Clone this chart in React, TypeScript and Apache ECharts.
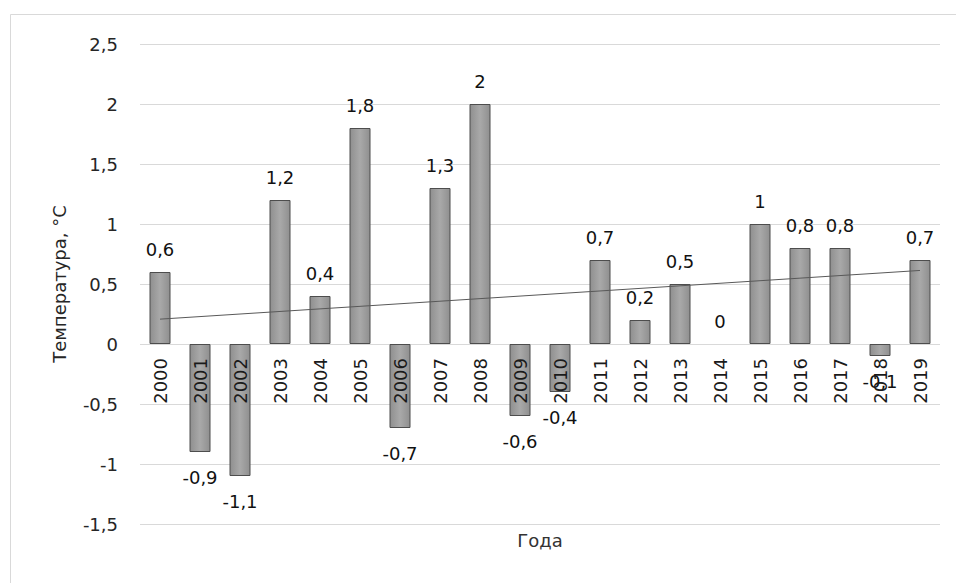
import React, { useEffect, useRef } from "react";
import * as echarts from "echarts";

// Годы наблюдений и аномалии температуры, °C
const years: string[] = [
  "2000", "2001", "2002", "2003", "2004", "2005", "2006", "2007", "2008", "2009",
  "2010", "2011", "2012", "2013", "2014", "2015", "2016", "2017", "2018", "2019",
];
const anomalies: number[] = [
  0.6, -0.9, -1.1, 1.2, 0.4, 1.8, -0.7, 1.3, 2, -0.6,
  -0.4, 0.7, 0.2, 0.5, 0, 1, 0.8, 0.8, -0.1, 0.7,
];
const yTicks = { min: -1.5, max: 2.5, step: 0.5 };

const FONT = "DejaVu Sans";
const comma = (v: number) => String(v).replace(".", ",");

const GRID = { left: 140, right: 16, top: 44, bottom: 59 };
const PLOT_HEIGHT = 583 - GRID.top - GRID.bottom;

// Linear least-squares trend over the series
function linearTrend(values: number[]): number[] {
  const n = values.length;
  const mx = (n - 1) / 2;
  const my = values.reduce((s, v) => s + v, 0) / n;
  let sxy = 0;
  let sxx = 0;
  values.forEach((v, i) => {
    sxy += (i - mx) * (v - my);
    sxx += (i - mx) * (i - mx);
  });
  const k = sxy / sxx;
  const b = my - k * mx;
  return values.map((_, i) => +(b + k * i).toFixed(4));
}

export default function App() {
  const ref = useRef<HTMLDivElement>(null);

  useEffect(() => {
    if (!ref.current) return;
    const chart = echarts.init(ref.current, null, { renderer: "svg" });
    const trend = linearTrend(anomalies);

    // Year labels hang just below the zero line: shift them up from the
    // bottom edge by the distance between the bottom and zero.
    const zeroFromBottom =
      (PLOT_HEIGHT * (0 - yTicks.min)) / (yTicks.max - yTicks.min);
    const yearLabelGap = 14;

    chart.setOption({
      animation: false,
      backgroundColor: "#ffffff",
      textStyle: { fontFamily: FONT },
      graphic: [
        {
          type: "rect",
          shape: { x: 10.5, y: 14.5, width: 980, height: 620 },
          style: { fill: "none", stroke: "#d9d9d9", lineWidth: 1 },
          silent: true,
        },
        {
          // x-axis title under the plot area
          type: "text",
          x: 540,
          y: 531,
          style: {
            text: "Года",
            fontSize: 18,
            fontFamily: FONT,
            fill: "#333333",
            align: "center",
            verticalAlign: "top",
          },
          silent: true,
        },
      ],
      grid: { ...GRID, containLabel: false },
      xAxis: {
        type: "category",
        data: years,
        axisLine: { show: false, onZero: false },
        axisTick: { show: false },
        axisLabel: {
          interval: 0,
          rotate: 90,
          margin: yearLabelGap - zeroFromBottom,
          fontSize: 18,
          color: "#1a1a1a",
          fontFamily: FONT,
        },
        z: 10,
      },
      yAxis: {
        type: "value",
        min: yTicks.min,
        max: yTicks.max,
        interval: yTicks.step,
        axisLine: { show: false },
        axisTick: { show: false },
        splitLine: { lineStyle: { color: "#d9d9d9", width: 1 } },
        axisLabel: {
          margin: 22,
          fontSize: 18,
          color: "#262626",
          fontFamily: FONT,
          formatter: (v: number) => comma(v),
        },
        name: "Температура, °C",
        nameLocation: "middle",
        nameGap: 72,
        nameTextStyle: { fontSize: 18, color: "#262626", fontFamily: FONT },
      },
      series: [
        {
          type: "bar",
          barWidth: 21,
          data: anomalies.map((v) => ({
            value: v,
            itemStyle: v === 0 ? { borderWidth: 0 } : undefined,
            label: {
              position: v < 0 ? "bottom" : "top",
              distance: v < 0 ? 16 : 14,
            },
          })),
          itemStyle: {
            color: new echarts.graphic.LinearGradient(0, 0, 1, 0, [
              { offset: 0, color: "#8f8f8f" },
              { offset: 0.5, color: "#a9a9a9" },
              { offset: 1, color: "#8f8f8f" },
            ]),
            borderColor: "#4d4d4d",
            borderWidth: 1,
          },
          label: {
            show: true,
            fontSize: 18,
            color: "#111111",
            fontFamily: FONT,
            formatter: (p: any) => comma(p.value),
          },
          z: 2,
        },
        {
          type: "line",
          data: trend,
          showSymbol: false,
          symbol: "none",
          lineStyle: { color: "#595959", width: 1 },
          z: 3,
          silent: true,
        },
      ],
    });

    return () => chart.dispose();
  }, []);

  return (
    <div
      ref={ref}
      style={{ position: "absolute", left: 0, top: 0, width: 956, height: 583 }}
    />
  );
}
